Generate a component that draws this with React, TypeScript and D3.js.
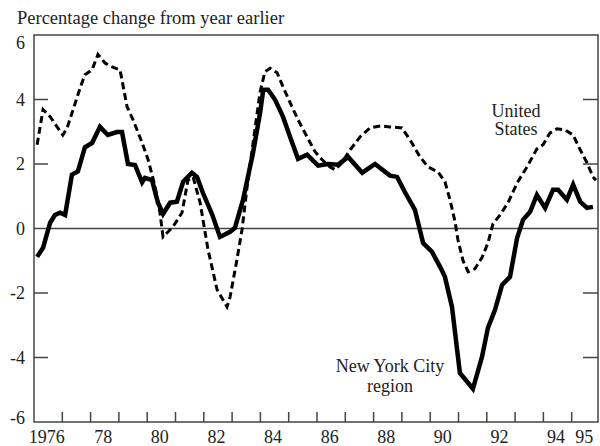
import React from 'react';
import * as d3 from 'd3';

// New York City region, year-over-year % change
const nycYears = [
  1976.11, 1976.32, 1976.57, 1976.74, 1976.92, 1977.1, 1977.34, 1977.55, 1977.8, 1978.05,
  1978.33, 1978.61, 1978.93, 1979.11, 1979.32, 1979.57, 1979.82, 1979.92, 1980.17, 1980.38,
  1980.56, 1980.81, 1981.05, 1981.27, 1981.58, 1981.76, 1981.97, 1982.29, 1982.57, 1982.93,
  1983.1, 1983.39, 1983.74, 1983.99, 1984.1, 1984.27, 1984.52, 1984.8, 1985.05, 1985.33,
  1985.65, 1986.04, 1986.39, 1986.75, 1987.1, 1987.6, 1988.05, 1988.58, 1988.83, 1989.1,
  1989.46, 1989.75, 1990.06, 1990.35, 1990.52, 1990.77, 1991.05, 1991.51, 1991.83, 1992.04,
  1992.29, 1992.54, 1992.82, 1993.07, 1993.28, 1993.53, 1993.77, 1994.06, 1994.34, 1994.52,
  1994.83, 1995.05, 1995.3, 1995.54, 1995.75,
];
const nycValues = [
  -0.88, -0.6, 0.18, 0.42, 0.49, 0.42, 1.67, 1.77, 2.52, 2.65,
  3.15, 2.9, 2.99, 2.99, 2.0, 1.97, 1.43, 1.57, 1.5, 0.8,
  0.45, 0.8, 0.83, 1.45, 1.73, 1.6, 1.1, 0.45, -0.26, -0.1,
  0.02, 0.9, 2.35, 3.59, 4.3, 4.3, 3.99, 3.46, 2.84, 2.16,
  2.29, 1.95, 2.0, 1.98, 2.22, 1.73, 2.0, 1.64, 1.6, 1.14,
  0.58, -0.45, -0.72, -1.19, -1.5, -2.43, -4.48, -4.97, -3.98, -3.08,
  -2.52, -1.75, -1.5, -0.3, 0.27, 0.52, 1.04, 0.64, 1.2, 1.2,
  0.89, 1.36, 0.83, 0.64, 0.67,
];

// United States
const usYears = [
  1976.11, 1976.32, 1976.57, 1976.81, 1977.02, 1977.17, 1977.38, 1977.63, 1977.8, 1978.05,
  1978.26, 1978.51, 1978.76, 1979.04, 1979.29, 1979.5, 1979.82, 1980.03, 1980.28, 1980.45,
  1980.56, 1980.91, 1981.23, 1981.44, 1981.62, 1981.87, 1982.15, 1982.47, 1982.82, 1982.93,
  1983.17, 1983.35, 1983.53, 1983.74, 1983.99, 1984.16, 1984.34, 1984.59, 1984.8, 1985.05,
  1985.33, 1985.65, 1985.93, 1986.18, 1986.46, 1986.64, 1986.88, 1987.17, 1987.52, 1987.87,
  1988.23, 1988.58, 1989.0, 1989.29, 1989.64, 1989.92, 1990.28, 1990.52, 1990.7, 1990.88,
  1990.98, 1991.16, 1991.34, 1991.58, 1991.83, 1992.04, 1992.22, 1992.47, 1992.75, 1993.07,
  1993.42, 1993.77, 1993.99, 1994.23, 1994.48, 1994.76, 1995.05, 1995.3, 1995.54, 1995.75,
  1995.86,
];
const usValues = [
  2.6, 3.69, 3.47, 3.16, 2.9, 3.12, 3.68, 4.36, 4.77, 4.92,
  5.4, 5.13, 5.01, 4.92, 3.77, 3.37, 2.66, 2.14, 1.3, 0.49,
  -0.26, 0.05, 0.49, 1.5, 1.6, 0.8, -0.66, -1.9, -2.43, -2.12,
  -0.97, -0.04, 1.29, 2.65, 4.24, 4.86, 4.97, 4.83, 4.39, 3.9,
  3.37, 2.84, 2.38, 2.13, 1.91, 1.82, 2.04, 2.44, 2.84, 3.12,
  3.18, 3.15, 3.12, 2.75, 2.22, 1.91, 1.75, 1.45, 0.89, 0.2,
  -0.35, -1.0, -1.34, -1.25, -0.9, -0.45, 0.15, 0.42, 0.8, 1.41,
  1.91, 2.47, 2.6, 2.96, 3.09, 3.06, 2.9, 2.44, 2.04, 1.6,
  1.5,
];

const yTicks = [6, 4, 2, 0, -2, -4, -6];
const xLabelYears = [1976, 1978, 1980, 1982, 1984, 1986, 1988, 1990, 1992, 1994, 1995];
const xLabels = ['1976', '78', '80', '82', '84', '86', '88', '90', '92', '94', '95'];

const FONT = '"Liberation Serif", "Times New Roman", serif';

export default function App() {
  const width = 600;
  const height = 446;

  const x = d3.scaleLinear().domain([1976, 1996]).range([34, 600]);
  const y = d3.scaleLinear().domain([-6, 6]).range([422, 35]);

  const left = x(1976);
  const right = x(1995.93);
  const top = y(6);
  const bottom = y(-6);

  const line = d3.line<[number, number]>()
    .x(d => x(d[0]))
    .y(d => y(d[1]));

  const nyc = nycYears.map((yr, i) => [yr, nycValues[i]] as [number, number]);
  const us = usYears.map((yr, i) => [yr, usValues[i]] as [number, number]);

  const yearTicks = d3.range(1977, 1996);

  return (
    <svg width={width} height={height} style={{ position: 'absolute', left: 0, top: 0, background: '#fff' }}
      fontFamily={FONT}>
      <text x={17} y={24} fontSize={18.5} fill="#222">Percentage change from year earlier</text>

      {/* y tick labels and inward ticks on both sides */}
      {yTicks.map(t => {
        const ty = Math.min(Math.max(y(t), top + 8), bottom - 4);
        return (
          <g key={t}>
            <text x={25} y={ty} dy="0.35em" textAnchor="end" fontSize={18} fill="#222">{t}</text>
            {t !== 6 && t !== -6 && t !== 0 && (
              <>
                <line x1={left} x2={left + 14} y1={y(t)} y2={y(t)} stroke="#444" strokeWidth={1.5} />
                <line x1={right - 15} x2={right} y1={y(t)} y2={y(t)} stroke="#444" strokeWidth={1.5} />
              </>
            )}
          </g>
        );
      })}

      {/* zero line */}
      <line x1={left} x2={right} y1={y(0)} y2={y(0)} stroke="#444" strokeWidth={1.5} />

      {/* x ticks at year boundaries */}
      {yearTicks.map(yr => (
        <line key={yr} x1={x(yr)} x2={x(yr)} y1={bottom} y2={bottom - 10} stroke="#444" strokeWidth={1.5} />
      ))}
      {xLabelYears.map((yr, i) => (
        <text key={yr} x={x(yr + 0.5) - 1.5} y={442.5} textAnchor="middle" fontSize={18} fill="#222">
          {xLabels[i]}
        </text>
      ))}

      {/* series */}
      <path d={line(us) || ''} fill="none" stroke="#000" strokeWidth={3} strokeDasharray="7,4" />
      <path d={line(nyc) || ''} fill="none" stroke="#000" strokeWidth={4.5} />

      {/* frame */}
      <rect x={left} y={top} width={right - left} height={bottom - top} fill="none" stroke="#444" strokeWidth={1.5} />

      {/* annotations */}
      <text x={516} y={116.5} textAnchor="middle" fontSize={18} fill="#222">United</text>
      <text x={516} y={135} textAnchor="middle" fontSize={18} fill="#222">States</text>
      <text x={390} y={372} textAnchor="middle" fontSize={18} fill="#222">New York City</text>
      <text x={390} y={392} textAnchor="middle" fontSize={18} fill="#222">region</text>
    </svg>
  );
}
